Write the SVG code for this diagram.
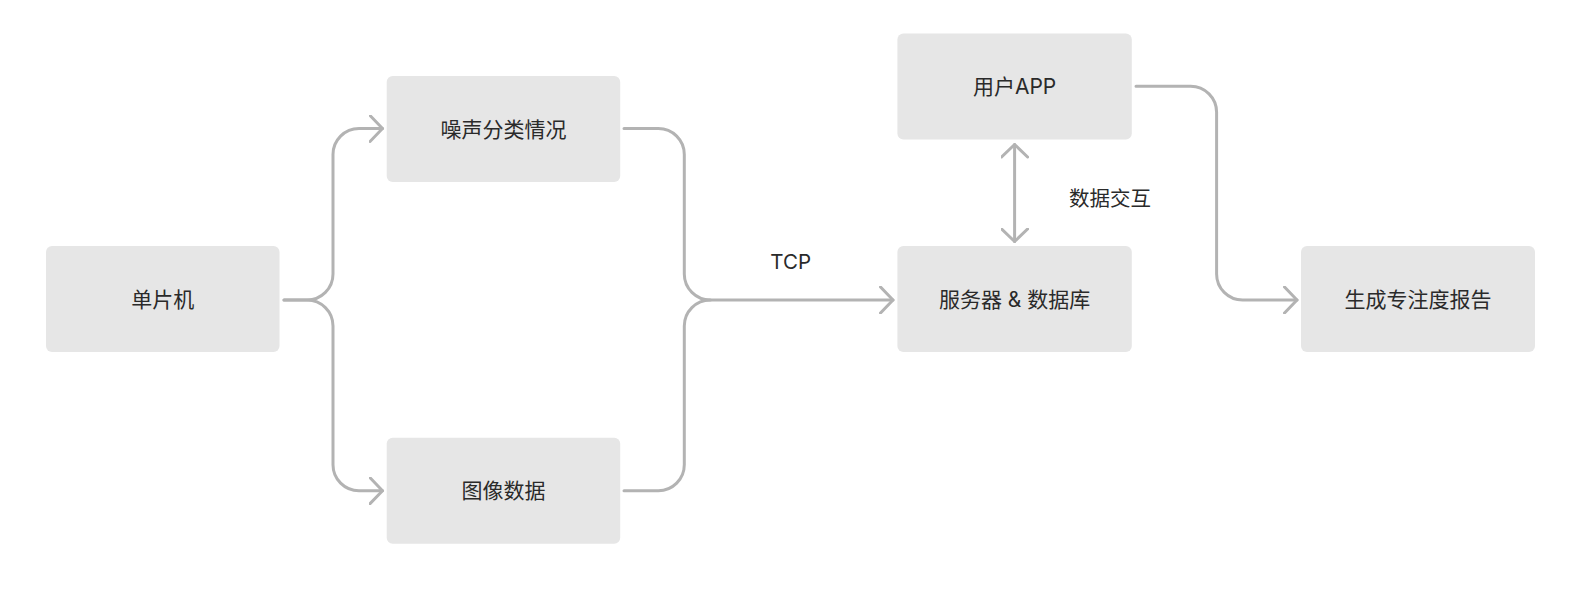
<svg xmlns="http://www.w3.org/2000/svg" width="1586" height="591" viewBox="0 0 1586 591">
<defs>
<style>
.node rect{fill:#e6e6e6;}
.node text,.lbl{font-family:"Inter","Noto Sans CJK SC",sans-serif;font-size:21px;fill:#2a2a2a;text-anchor:middle;dominant-baseline:central;}
.lbl{font-size:20.5px;}
.conn path{fill:none;stroke:#b3b3b3;stroke-width:3;stroke-linecap:round;stroke-linejoin:round;}
</style>
<marker id="arr" viewBox="-14 -14 16 28" markerWidth="16" markerHeight="28" refX="0" refY="0" orient="auto-start-reverse" markerUnits="userSpaceOnUse">
<path d="M-12.5,-13 L0,0 L-12.5,13" fill="none" stroke="#b3b3b3" stroke-width="3" stroke-linecap="round" stroke-linejoin="round"/>
</marker>
</defs>
<rect width="1586" height="591" fill="#ffffff"/>
<g class="conn" id="connectors">
<path d="M284,300 H307 A26,26 0 0 0 333,274 V154.5 A26,26 0 0 1 359,128.5 H382.5" marker-end="url(#arr)"/>
<path d="M284,300 H307 A26,26 0 0 1 333,326 V464.7 A26,26 0 0 0 359,490.7 H382.5" marker-end="url(#arr)"/>
<path d="M624,128.5 H658.3 A26,26 0 0 1 684.3,154.5 V274 A26,26 0 0 0 710.3,300 H893" marker-end="url(#arr)"/>
<path d="M624,490.7 H658.3 A26,26 0 0 0 684.3,464.7 V326 A26,26 0 0 1 710.3,300"/>
<path d="M1014.6,144.5 V241.5" marker-start="url(#arr)" marker-end="url(#arr)"/>
<path d="M1136,86.3 H1190.6 A26,26 0 0 1 1216.6,112.3 V274 A26,26 0 0 0 1242.6,300 H1297" marker-end="url(#arr)"/>
</g>
<text class="lbl" x="790.7" y="261">TCP</text>
<text class="lbl" x="1110" y="198">数据交互</text>
<g class="node" id="n1"><rect x="46" y="246" width="233.5" height="106" rx="6"/><text x="162.7" y="299.5">单片机</text></g>
<g class="node" id="n2"><rect x="386.7" y="76" width="233.5" height="106" rx="6"/><text x="503.4" y="129">噪声分类情况</text></g>
<g class="node" id="n3"><rect x="386.7" y="437.7" width="233.5" height="106" rx="6"/><text x="503.4" y="490.7">图像数据</text></g>
<g class="node" id="n4"><rect x="897.4" y="246" width="234.4" height="106" rx="6"/><text x="1014.6" y="299.5">服务器 &amp; 数据库</text></g>
<g class="node" id="n5"><rect x="897.4" y="33.4" width="234.4" height="106" rx="6"/><text x="1014.6" y="86.4">用户APP</text></g>
<g class="node" id="n6"><rect x="1301" y="246" width="234" height="106" rx="6"/><text x="1418" y="299.5">生成专注度报告</text></g>
</svg>
